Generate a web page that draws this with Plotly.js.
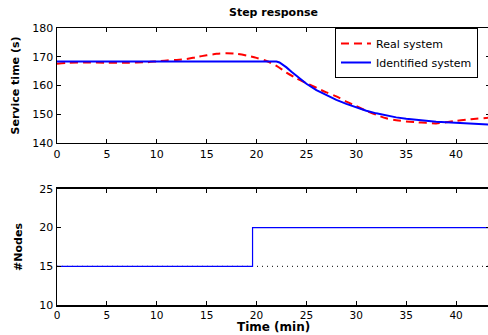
<!DOCTYPE html>
<html>
<head>
<meta charset="utf-8">
<script src="https://cdn.plot.ly/plotly-3.0.1.min.js"></script>
<style>
html,body{margin:0;padding:0;overflow:hidden;background:#fff;}
#chart{width:490px;height:335px;}
</style>
</head>
<body>
<div id="chart"></div>
<script>
// Top panel: step response (service time, s) vs time (min)
var realT = [0,1,3,5,7,9,10,11,12,13,14,15,16,17,18,19,20,21,22,23,24,25,26,27,28,29,30,31,32,33,34,35,36,37,38,39,40,41,42,43,43.5];
var realY = [167.6,167.9,168,167.9,167.9,168.1,168.4,168.7,168.9,169.2,169.9,170.5,171,171.2,171,170.4,169.6,168.5,166.8,164.5,162.5,160.8,159.2,157.6,156.2,154.4,152.8,151.2,149.8,148.6,147.9,147.5,147.2,147.0,146.8,147.2,147.7,148.1,148.4,148.7,148.9];
var identT = [0,22,22.3,22.7,23,23.5,24,25,26,27,28,29,30,31,32,33,34,35,36,37,38,39,40,41,42,43,43.5];
var identY = [168.3,168.3,168.0,167.2,166.3,164.8,163.4,160.6,158.4,156.6,155.0,153.6,152.3,151.2,150.3,149.5,148.9,148.4,148.0,147.7,147.4,147.2,147.0,146.8,146.6,146.5,146.4];
// Bottom panel: number of nodes
var nodesT = [0,19.6,19.6,43.5];
var nodesY = [15,15,20,20];
var baseT = [0,43.5];
var baseY = [15,15];
var xTicks = [0,5,10,15,20,25,30,35,40];

var fam = 'DejaVu Sans, Liberation Sans, Arial, sans-serif';

var traces = [
  {x: baseT, y: baseY, xaxis:'x2', yaxis:'y2', mode:'lines', showlegend:false,
   line:{color:'#000000', width:1, dash:'1px,4px'}, hoverinfo:'skip'},
  {x: nodesT, y: nodesY, xaxis:'x2', yaxis:'y2', mode:'lines', showlegend:false,
   line:{color:'#0000ff', width:1.2}},
  {x: realT, y: realY, xaxis:'x', yaxis:'y', mode:'lines', name:'Real system',
   line:{color:'#ff0000', width:2, dash:'8px,5px', shape:'spline', smoothing:0.8}},
  {x: identT, y: identY, xaxis:'x', yaxis:'y', mode:'lines', name:'Identified system',
   line:{color:'#0000ff', width:2, shape:'linear'}}
];

var axBase = {
  showline:true, linecolor:'#000', linewidth:1.5, mirror:'ticks',
  ticks:'inside', ticklen:4, tickcolor:'#000', tickwidth:1,
  showgrid:false, zeroline:false,
  tickfont:{family:fam, size:11, color:'#000'}
};
function ax(extra){ var o = JSON.parse(JSON.stringify(axBase)); for (var k in extra) o[k]=extra[k]; return o; }

var layout = {
  width:490, height:335,
  margin:{l:57, r:0, t:28, b:30},
  paper_bgcolor:'#fff', plot_bgcolor:'#fff',
  font:{family:fam, color:'#000'},
  title:{text:'<b>Step response</b>', font:{family:fam, size:11, color:'#000'},
         x:0.5, xref:'paper', y:0.965, yref:'container', yanchor:'middle'},
  xaxis: ax({domain:[0,1], range:[0,43.4], tickvals:xTicks, anchor:'y'}),
  yaxis: ax({domain:[0.585,1], range:[140,180], tickvals:[140,150,160,170,180], anchor:'x',
            title:{text:'<b>Service time (s)</b>', font:{family:fam, size:11, color:'#000'}, standoff:10}}),
  xaxis2: ax({domain:[0,1], range:[0,43.4], tickvals:xTicks, anchor:'y2',
            tickfont:{family:fam, size:10.5, color:'#000'}}),
  yaxis2: ax({domain:[0,0.419], range:[10,25], tickvals:[10,15,20,25], anchor:'x2',
            title:{text:'<b>#Nodes</b>', font:{family:fam, size:11, color:'#000'}, standoff:14}}),
  annotations:[{text:'<b>Time (min)</b>', xref:'paper', x:0.5, xanchor:'center',
                yref:'paper', y:-0.079, yanchor:'middle', showarrow:false,
                font:{family:fam, size:12, color:'#000'}}],
  legend:{x:0.642, y:1, xanchor:'left', yanchor:'top', bgcolor:'#fff',
          bordercolor:'#000', borderwidth:1, font:{family:fam, size:11, color:'#000'},
          tracegroupgap:0, itemwidth:30},
  showlegend:true
};

Plotly.newPlot('chart', traces, layout, {displayModeBar:false, staticPlot:true});
</script>
</body>
</html>
